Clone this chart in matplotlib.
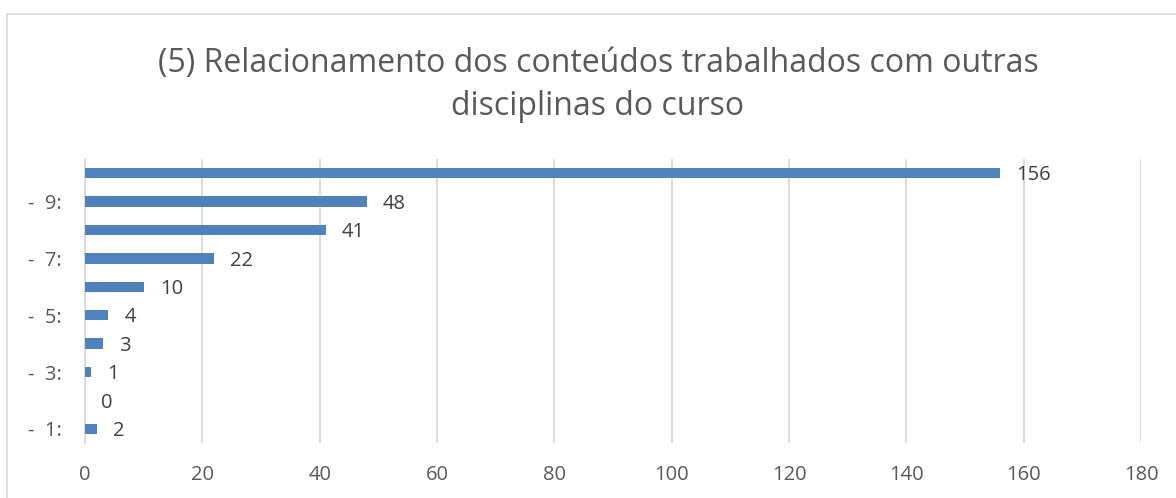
import matplotlib.pyplot as plt
from matplotlib.patches import Rectangle

# data
categories = ['-  1:', '-  2:', '-  3:', '-  4:', '-  5:', '-  6:', '-  7:', '-  8:', '-  9:', '-  10:']
counts = [2, 0, 1, 3, 4, 10, 22, 41, 48, 156]
x_ticks = [0, 20, 40, 60, 80, 100, 120, 140, 160, 180]
title = '(5) Relacionamento dos conteúdos trabalhados com outras\ndisciplinas do curso'

plt.rcParams['font.family'] = ['Open Sans', 'DejaVu Sans']
text_color = '#595959'
label_color = '#404040'
bar_color = '#4f81bd'
grid_color = '#d9d9d9'

fig = plt.figure(figsize=(11.76, 4.98), dpi=100)
ax = fig.add_axes([85 / 1176, 1 - 443 / 498, (1141 - 85) / 1176, (443 - 159) / 498])

# chart border (cut off on right and bottom like the screenshot)
fig.patches.append(Rectangle((7 / 1176, -0.1), 1.2, 1 - 14 / 498 + 0.1, transform=fig.transFigure,
                             fill=False, edgecolor='#d9d9d9', linewidth=1.2))

pos = list(range(len(categories)))
ax.barh(pos, counts, height=0.37, color=bar_color, zorder=3)

for p, v in zip(pos, counts):
    ax.text(v + 2.8, p - 0.08, str(v), va='center', ha='left', fontsize=14.5, color=label_color)

ax.set_xlim(0, 180)
ax.set_ylim(-0.5, len(categories) - 0.5)
ax.set_xticks(x_ticks)
ax.set_xticklabels([str(t) for t in x_ticks], fontsize=14.5, color=text_color)
ax.set_yticks(pos)
ax.set_yticklabels([c if i % 2 == 0 else '' for i, c in enumerate(categories)],
                   fontsize=14.5, color=text_color)
ax.tick_params(length=0, pad=17)
ax.tick_params(axis='x', pad=16)

ax.grid(axis='x', color=grid_color, linewidth=1.3, zorder=0)
for s in ['top', 'right', 'bottom']:
    ax.spines[s].set_visible(False)
ax.spines['left'].set_color(grid_color)
ax.spines['left'].set_linewidth(1.3)

fig.text(598 / 1176, 1 - 85 / 498, title, ha='center', va='center', fontsize=23, color=text_color,
         linespacing=1.4)

plt.savefig('out.png', dpi=100)
